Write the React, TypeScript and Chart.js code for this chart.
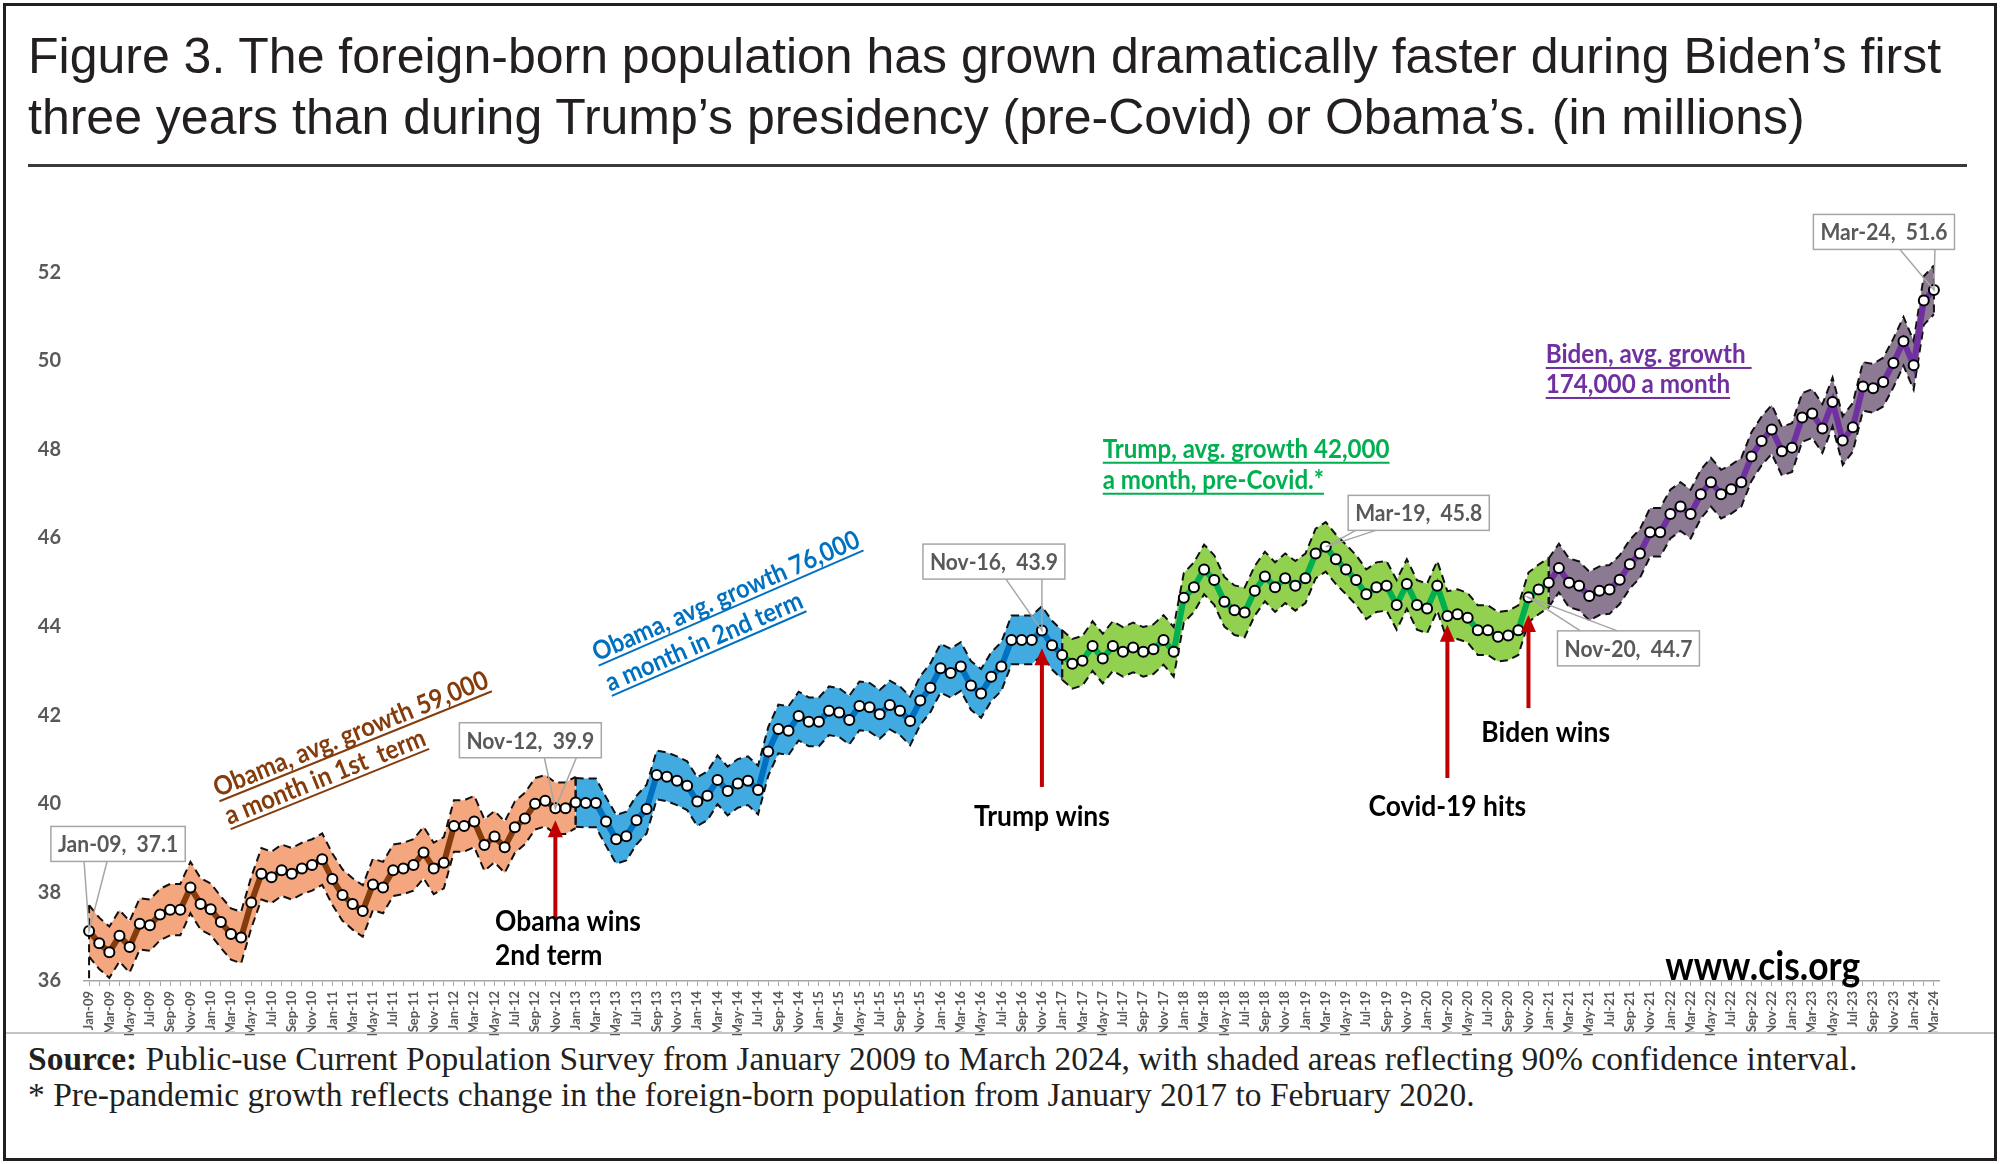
import { useEffect, useRef } from 'react';
import Chart from 'chart.js/auto';

const MONTH_NAMES = ['Jan', 'Feb', 'Mar', 'Apr', 'May', 'Jun', 'Jul', 'Aug', 'Sep', 'Oct', 'Nov', 'Dec'];
const START_YEAR = 2009;

// foreign-born population (millions), monthly CPS
const obamaFirstTerm = [
  37.13, 36.85, 36.65, 37.02, 36.77, 37.29, 37.26, 37.5, 37.61, 37.61, 38.11, 37.74,
  37.62, 37.33, 37.06, 36.98, 37.77, 38.42, 38.34, 38.5, 38.42, 38.54, 38.62, 38.75,
  38.3, 37.94, 37.74, 37.58, 38.18, 38.11, 38.5, 38.54, 38.62, 38.9, 38.54, 38.67,
  39.5, 39.5, 39.6, 39.07, 39.26, 39.02, 39.47, 39.67, 40.0, 40.07, 39.9, 39.9,
];
const obamaSecondTerm = [
  40.03, 40.02, 40.02, 39.6, 39.2, 39.27, 39.63, 39.88, 40.65, 40.61, 40.52, 40.41,
  40.05, 40.18, 40.54, 40.29, 40.46, 40.52, 40.31, 41.18, 41.69, 41.65, 41.98, 41.85,
  41.85, 42.1, 42.06, 41.89, 42.21, 42.18, 42.02, 42.23, 42.1, 41.87, 42.33, 42.62,
  43.06, 42.95, 43.1, 42.67, 42.49, 42.87, 43.1, 43.7, 43.7, 43.7, 43.91, 43.58,
];
const trumpTerm = [
  43.36, 43.16, 43.23, 43.56, 43.28, 43.56, 43.43, 43.53, 43.43, 43.49, 43.7, 43.43,
  44.65, 44.89, 45.29, 45.05, 44.56, 44.37, 44.32, 44.81, 45.13, 44.89, 45.09, 44.92,
  45.09, 45.65, 45.8, 45.52, 45.29, 45.05, 44.73, 44.89, 44.92, 44.49, 44.96, 44.49,
  44.41, 44.92, 44.24, 44.28, 44.2, 43.92, 43.92, 43.77, 43.8, 43.92, 44.66, 44.84,
];
const bidenTerm = [
  44.99, 45.32, 44.99, 44.92, 44.69, 44.81, 44.84, 45.06, 45.41, 45.65, 46.13, 46.13,
  46.54, 46.71, 46.54, 46.99, 47.26, 46.99, 47.1, 47.26, 47.84, 48.19, 48.45, 47.96,
  48.04, 48.72, 48.81, 48.47, 49.07, 48.2, 48.5, 49.42, 49.38, 49.52, 49.95, 50.44,
  49.9, 51.36, 51.6,
];
// half-width of the 90% confidence band in each term
const ciMargins = [0.58, 0.55, 0.56, 0.55];
const yTicks = [36, 38, 40, 42, 44, 46, 48, 50, 52];

const eraSeries = [obamaFirstTerm, obamaSecondTerm, trumpTerm, bidenTerm];
const values = eraSeries.flat();
const labels = values.map(
  (_, i) => `${MONTH_NAMES[i % 12]}-${String((START_YEAR + Math.floor(i / 12)) % 100).padStart(2, '0')}`
);
const eraStarts = eraSeries.map((_, k) => eraSeries.slice(0, k).reduce((s, a) => s + a.length, 0));
const eraEnd = (k: number) => (k + 1 < eraStarts.length ? eraStarts[k + 1] : values.length - 1);
const eraOf = (i: number) => {
  let k = 0;
  eraStarts.forEach((s, j) => { if (i >= s) k = j; });
  return k;
};

const LINE_COLORS = ['#843C0C', '#0070C0', '#00B050', '#7030A0'];
const BAND_COLORS = ['#F4A77F', '#41AAE0', '#92D050', '#8B7A92'];
const FONT = 'Lato, "Open Sans", sans-serif';
const SQUEEZE = 0.9; // Lato drawn a little narrower, closer to Calibri

const callouts = [
  { label: 'Jan-09', dx: 29, dy: -87, base: [-34, -11] },
  { label: 'Nov-12', dx: -25, dy: -68, base: [14, 46] },
  { label: 'Nov-16', dx: -48, dy: -69, base: [12, 48] },
  { label: 'Mar-19', dx: 93, dy: -34, base: [-63, -43] },
  { label: 'Nov-20', dx: 100, dy: 51, base: [-48, -11] },
  { label: 'Mar-24', dx: -50, dy: -58, base: [16, 51] },
];

const eraNotes = [
  { lines: ['Obama, avg. growth 59,000', 'a month in 1st  term'], at: [12.7, 40.15], angle: -22, width: 294, gap: 30 },
  { lines: ['Obama, avg. growth 76,000', 'a month in 2nd term'], at: [50.1, 43.21], angle: -23.5, width: 289, gap: 33 },
  { lines: ['Trump, avg. growth 42,000', 'a month, pre-Covid.*'], at: [100, 47.8], angle: 0, width: 287, gap: 31 },
  { lines: ['Biden, avg. growth ', '174,000 a month'], at: [143.7, 49.94], angle: 0, width: 206, gap: 30 },
];

const arrows = [
  { label: 'Nov-12', tip: 39.63, tail: 37.42 },
  { label: 'Nov-16', tip: 43.51, tail: 40.38 },
  { label: 'Mar-20', tip: 44.04, tail: 40.58 },
  { label: 'Nov-20', tip: 44.26, tail: 42.16 },
];

const eventNotes = [
  { lines: ['Obama wins', '2nd term'], at: [40.05, 37.13], align: 'left' },
  { lines: ['Trump wins'], at: [94, 39.5], align: 'center' },
  { lines: ['Covid-19 hits'], at: [134, 39.72], align: 'center' },
  { lines: ['Biden wins'], at: [143.7, 41.4], align: 'center' },
];

function fitSize(ctx: CanvasRenderingContext2D, text: string, width: number) {
  ctx.font = `bold 100px ${FONT}`;
  return (100 * width) / (ctx.measureText(text).width * SQUEEZE);
}

// draw with origin at (x, y), rotated and squeezed horizontally
function inFrame(ctx: CanvasRenderingContext2D, x: number, y: number, angle: number, draw: () => void) {
  ctx.save();
  ctx.translate(x, y);
  ctx.rotate((angle * Math.PI) / 180);
  ctx.scale(SQUEEZE, 1);
  draw();
  ctx.restore();
}

const notesPlugin = {
  id: 'notes',
  beforeDatasetDraw(chart: any, args: any) {
    if (args.index !== 0) return;
    // vertical dashed edges of each band
    const ctx: CanvasRenderingContext2D = chart.ctx;
    const xs = chart.scales.x;
    const ys = chart.scales.y;
    ctx.save();
    ctx.strokeStyle = '#111';
    ctx.lineWidth = 2;
    ctx.setLineDash([8, 5]);
    eraSeries.forEach((_, k) => {
      [eraStarts[k], eraEnd(k)].forEach((i, j) => {
        const x = xs.getPixelForValue(i);
        const bottom = k === 0 && j === 0 ? ys.min : values[i] - ciMargins[k];
        ctx.beginPath();
        ctx.moveTo(x, ys.getPixelForValue(values[i] + ciMargins[k]));
        ctx.lineTo(x, ys.getPixelForValue(bottom));
        ctx.stroke();
      });
    });
    ctx.restore();
  },
  afterDatasetsDraw(chart: any) {
    const ctx: CanvasRenderingContext2D = chart.ctx;
    const xs = chart.scales.x;
    const ys = chart.scales.y;
    const px = (i: number) => xs.getPixelForValue(i);
    const py = (v: number) => ys.getPixelForValue(v);
    ctx.save();
    ctx.textBaseline = 'alphabetic';

    // term notes
    eraNotes.forEach((n, k) => {
      const size = fitSize(ctx, n.lines[0], n.width);
      inFrame(ctx, px(n.at[0]), py(n.at[1]), n.angle, () => {
        ctx.font = `bold ${size}px ${FONT}`;
        ctx.fillStyle = LINE_COLORS[k];
        ctx.textAlign = 'left';
        n.lines.forEach((t, j) => {
          const yy = j * n.gap;
          ctx.fillText(t, 0, yy);
          ctx.fillRect(0, yy + size * 0.13, ctx.measureText(t).width, Math.max(1.8, size * 0.075));
        });
      });
    });

    // red arrows
    ctx.strokeStyle = '#C00000';
    ctx.fillStyle = '#C00000';
    ctx.lineWidth = 4;
    arrows.forEach((a) => {
      const x0 = px(labels.indexOf(a.label));
      const yTip = py(a.tip);
      ctx.beginPath();
      ctx.moveTo(x0, py(a.tail));
      ctx.lineTo(x0, yTip + 12);
      ctx.stroke();
      ctx.beginPath();
      ctx.moveTo(x0, yTip);
      ctx.lineTo(x0 - 7.5, yTip + 17);
      ctx.lineTo(x0 + 7.5, yTip + 17);
      ctx.closePath();
      ctx.fill();
    });

    // event labels
    const eSize = fitSize(ctx, 'Trump wins', 136);
    eventNotes.forEach((e) => {
      e.lines.forEach((t, j) =>
        inFrame(ctx, px(e.at[0]), py(e.at[1]) + j * 34, 0, () => {
          ctx.font = `bold ${eSize}px ${FONT}`;
          ctx.fillStyle = '#000';
          ctx.textAlign = e.align as CanvasTextAlign;
          ctx.fillText(t, 0, 0);
        })
      );
    });

    // value callouts
    const cSize = fitSize(ctx, 'Nov-12,  39.9', 128);
    callouts.forEach((c) => {
      const i = labels.indexOf(c.label);
      const x0 = px(i);
      const y0 = py(values[i]);
      const text = `${c.label},  ${values[i].toFixed(1)}`;
      ctx.font = `bold ${cSize}px ${FONT}`;
      const w = ctx.measureText(text).width * SQUEEZE + 14;
      const h = 35;
      const cx = x0 + c.dx;
      const cy = y0 + c.dy;
      const edge = c.dy < 0 ? cy + h / 2 : cy - h / 2;
      ctx.fillStyle = '#fff';
      ctx.strokeStyle = '#A6A6A6';
      ctx.lineWidth = 1.5;
      ctx.fillRect(cx - w / 2, cy - h / 2, w, h);
      ctx.strokeRect(cx - w / 2, cy - h / 2, w, h);
      ctx.beginPath();
      ctx.moveTo(cx + c.base[0], edge);
      ctx.lineTo(x0, y0);
      ctx.lineTo(cx + c.base[1], edge);
      ctx.stroke();
      inFrame(ctx, cx, cy + 1, 0, () => {
        ctx.font = `bold ${cSize}px ${FONT}`;
        ctx.fillStyle = '#595959';
        ctx.textAlign = 'center';
        ctx.textBaseline = 'middle';
        ctx.fillText(text, 0, 0);
      });
    });

    // site mark
    const sSize = fitSize(ctx, 'www.cis.org', 195);
    inFrame(ctx, px(155.5), py(36.02), 0, () => {
      ctx.font = `bold ${sSize}px ${FONT}`;
      ctx.fillStyle = '#000';
      ctx.textAlign = 'left';
      ctx.textBaseline = 'alphabetic';
      ctx.fillText('www.cis.org', 0, 0);
    });

    ctx.restore();
  },
};

export default function App() {
  const canvasRef = useRef<HTMLCanvasElement>(null);
  const chartRef = useRef<Chart | null>(null);

  useEffect(() => {
    document.body.style.margin = '0';
    if (!canvasRef.current) return;
    const ctx = canvasRef.current.getContext('2d');
    if (!ctx) return;
    if (chartRef.current) chartRef.current.destroy();

    const bandSets = eraSeries.flatMap((_, k) => {
      const s = eraStarts[k];
      const e = eraEnd(k);
      const inRange = (i: number) => i >= s && i <= e;
      const common = {
        borderColor: '#111',
        borderWidth: 2,
        borderDash: [8, 5],
        pointRadius: 0,
        order: 1,
        spanGaps: false,
        tension: 0,
      };
      return [
        { ...common, data: values.map((v, i) => (inRange(i) ? v + ciMargins[k] : null)), fill: false },
        {
          ...common,
          data: values.map((v, i) => (inRange(i) ? v - ciMargins[k] : null)),
          fill: '-1',
          backgroundColor: BAND_COLORS[k],
        },
      ];
    });

    chartRef.current = new Chart(ctx, {
      type: 'line',
      data: {
        labels,
        datasets: [
          {
            data: values,
            borderColor: LINE_COLORS[0],
            borderWidth: 6,
            segment: { borderColor: (c: any) => LINE_COLORS[eraOf(c.p0DataIndex)] },
            pointRadius: 5,
            pointBackgroundColor: '#fff',
            pointBorderColor: '#000',
            pointBorderWidth: 2,
            fill: false,
            order: 0,
            tension: 0,
          },
          ...bandSets,
        ] as any,
      },
      options: {
        animation: false,
        responsive: true,
        maintainAspectRatio: false,
        events: [],
        layout: { padding: { top: 13.6, right: 61, left: 0, bottom: 0 } },
        plugins: { legend: { display: false }, tooltip: { enabled: false } },
        scales: {
          x: {
            offset: true,
            grid: { display: true, drawOnChartArea: false, offset: false, tickLength: 5, color: '#A6A6A6' },
            border: { display: true, color: '#A6A6A6', width: 1.5 },
            ticks: {
              autoSkip: false,
              maxRotation: 90,
              minRotation: 90,
              padding: 5,
              color: '#595959',
              font: { family: FONT, size: 13, weight: 'bold' },
              callback: (_v: any, i: number) => (i % 2 === 0 ? labels[i] : ''),
            },
            afterFit: (scale: any) => { scale.height = 55; },
          },
          y: {
            min: 36,
            max: 54,
            grid: { display: false, drawTicks: true, tickLength: 23 },
            border: { display: false },
            afterBuildTicks: (scale: any) => { scale.ticks = yTicks.map((value) => ({ value })); },
            ticks: { padding: 0, color: '#595959', font: { family: FONT, size: 20, weight: 'bold' } },
            afterFit: (scale: any) => { scale.width = 84; },
          },
        },
      } as any,
      plugins: [notesPlugin],
    });

    return () => {
      if (chartRef.current) {
        chartRef.current.destroy();
        chartRef.current = null;
      }
    };
  }, []);

  return (
    <div style={{ position: 'relative', width: 2000, height: 1164, background: '#fff', overflow: 'hidden' }}>
      <div style={{ position: 'absolute', left: 3, top: 3, right: 3, bottom: 3, border: '3px solid #231f20' }} />
      <div
        style={{
          position: 'absolute',
          left: 28,
          top: 26,
          font: '50px/61px "Liberation Sans", Arial, sans-serif',
          color: '#231f20',
          whiteSpace: 'nowrap',
        }}
      >
        Figure 3. The foreign-born population has grown dramatically faster during Biden’s first
        <br />
        three years than during Trump’s presidency (pre-Covid) or Obama’s. (in millions)
      </div>
      <div style={{ position: 'absolute', left: 28, top: 164, width: 1939, height: 3, background: '#3a3a3a' }} />
      <div style={{ position: 'absolute', left: 0, top: 170, width: 2000, height: 866 }}>
        <canvas ref={canvasRef} />
      </div>
      <div style={{ position: 'absolute', left: 6, right: 6, top: 1032, height: 2, background: '#c4c4c4' }} />
      <div
        style={{
          position: 'absolute',
          left: 28,
          top: 1041,
          font: '33.5px/35.5px "Liberation Serif", "Times New Roman", serif',
          color: '#231f20',
          whiteSpace: 'nowrap',
        }}
      >
        <b>Source:</b> Public-use Current Population Survey from January 2009 to March 2024, with shaded areas
        reflecting 90% confidence interval.
        <br />* Pre-pandemic growth reflects change in the foreign-born population from January 2017 to February 2020.
      </div>
    </div>
  );
}
